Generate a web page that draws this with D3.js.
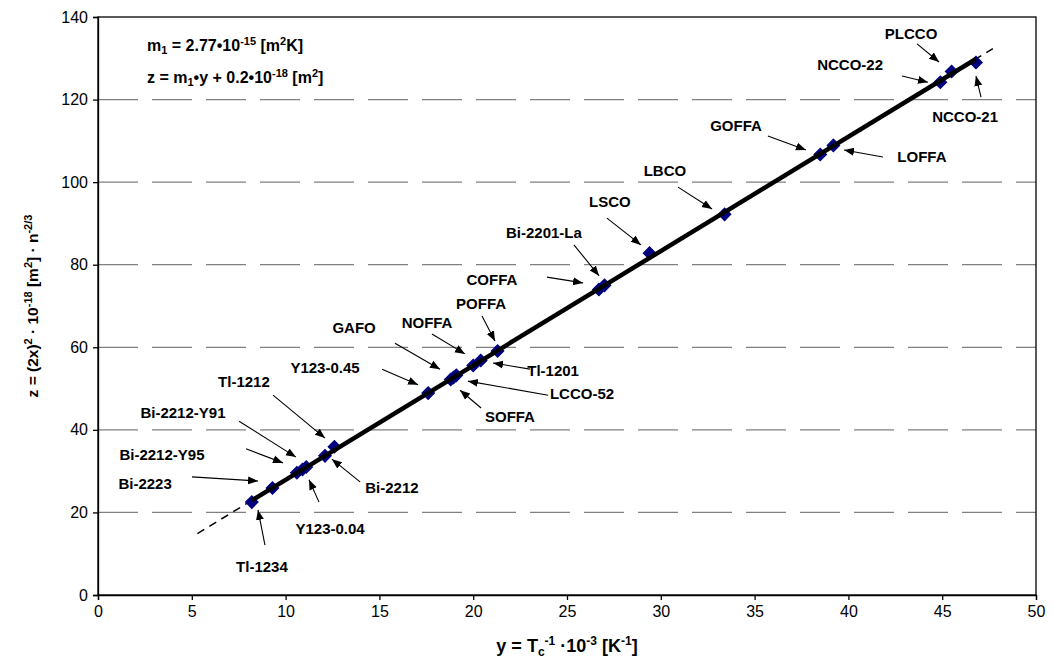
<!DOCTYPE html>
<html><head><meta charset="utf-8">
<script src="https://cdn.jsdelivr.net/npm/d3@7"></script>
<style>
body{margin:0;background:#fff;}
svg text{font-family:"Liberation Sans",Arial,sans-serif;}
</style></head>
<body><svg id="c" width="1051" height="663"></svg>
<script>
// ---- data ----
const categories = ["Tl-1234","Bi-2223","Bi-2212-Y95","Bi-2212-Y91","Y123-0.04","Bi-2212","Tl-1212","Y123-0.45","GAFO","SOFFA","LCCO-52","NOFFA","Tl-1201","POFFA","COFFA","Bi-2201-La","LSCO","LBCO","GOFFA","LOFFA","NCCO-22","PLCCO","NCCO-21"];
const yValues = [8.2,9.3,10.6,10.9,11.1,12.1,12.6,17.6,18.8,18.95,19.1,20.0,20.4,21.3,26.7,27.0,29.4,33.4,38.5,39.2,44.9,45.5,46.8];
const zValues = [22.5,25.9,29.6,30.4,31.0,33.7,35.9,48.9,52.2,52.7,53.2,55.6,56.8,59.1,74.0,75.0,82.8,92.2,106.7,108.9,124.2,126.8,129.0];
const xTicks = [0,5,10,15,20,25,30,35,40,45,50];
const yTicks = [0,20,40,60,80,100,120,140];
const fitSlope = 2.77, fitIntercept = 0.2;   // z = m1*y + 0.2
const fitExtent = [5.3, 47.7];                  // dashed extension range
// label anchors and arrows, in data units: [label, lx, lz, x1, z1, x2, z2]
const annotations = [
 ["Tl-1234",8.74,6.8,8.90,12.1,8.53,20.6],
 ["Bi-2223",2.51,27.1,5.01,28.6,8.53,27.6],
 ["Bi-2212-Y95",3.41,33.9,7.89,35.4,9.86,32.0],
 ["Bi-2212-Y91",4.53,44.3,7.52,42.1,10.55,33.4],
 ["Tl-1212",7.78,51.6,9.33,48.4,12.10,38.0],
 ["Y123-0.04",12.37,16.2,11.78,22.5,11.25,27.9],
 ["Bi-2212",15.67,25.9,13.97,27.4,12.47,32.9],
 ["Y123-0.45",12.10,55.2,15.14,54.7,17.06,50.9],
 ["GAFO",13.65,64.7,15.83,61.0,18.23,54.7],
 ["NOFFA",17.54,66.1,17.80,63.2,19.56,58.4],
 ["POFFA",20.42,70.7,20.47,67.6,21.16,61.5],
 ["Tl-1201",24.26,54.3,23.03,54.7,21.06,56.2],
 ["LCCO-52",25.80,48.7,23.99,48.4,19.72,51.8],
 ["SOFFA",21.96,43.1,20.42,45.3,19.30,49.6],
 ["COFFA",21.00,76.5,23.93,77.0,25.85,75.6],
 ["Bi-2201-La",23.77,87.7,25.37,84.8,26.71,77.3],
 ["LSCO",27.29,95.2,27.13,91.3,28.94,84.8],
 ["LBCO",30.22,102.7,30.92,98.8,32.73,93.5],
 ["GOFFA",34.01,113.6,35.71,111.2,37.74,107.8],
 ["LOFFA",43.92,106.3,41.84,106.1,39.77,107.8],
 ["NCCO-22",40.09,128.4,42.86,125.7,44.24,124.2],
 ["PLCCO",43.34,136.1,43.66,133.5,44.83,129.1],
 ["NCCO-21",46.22,115.8,47.07,120.6,46.80,125.7]
];

// ---- layout ----
const svg = d3.select("#c");
const m = {l:98, t:17, r:15, b:68};
const W = 1051 - m.l - m.r, H = 663 - m.t - m.b;
const x = d3.scaleLinear().domain([0,50]).range([m.l, m.l+W]);
const y = d3.scaleLinear().domain([0,140]).range([m.t+H, m.t]);

svg.append("rect").attr("width",1051).attr("height",663).attr("fill","#fff");

// grid
svg.append("g").selectAll("line").data(yTicks.filter(d=>d>0&&d<140)).join("line")
  .attr("x1",x(0)).attr("x2",x(50)).attr("y1",d=>y(d)).attr("y2",d=>y(d))
  .attr("stroke","#808080").attr("stroke-width",1.3).attr("stroke-dasharray","40,14");

// frame
svg.append("rect").attr("x",x(0)).attr("y",y(140)).attr("width",x(50)-x(0)).attr("height",y(0)-y(140))
  .attr("fill","none").attr("stroke","#000").attr("stroke-width",1.3);

// axes
const xa = svg.append("g").attr("transform",`translate(0,${y(0)})`)
  .call(d3.axisBottom(x).tickValues(xTicks).tickSize(5).tickPadding(6));
const ya = svg.append("g").attr("transform",`translate(${x(0)},0)`)
  .call(d3.axisLeft(y).tickValues(yTicks).tickSize(5).tickPadding(5));
[xa,ya].forEach(a=>{
  a.select(".domain").attr("stroke","#000").attr("stroke-width",1.3);
  a.selectAll(".tick line").attr("stroke","#000").attr("stroke-width",1.3);
  a.selectAll(".tick text").attr("font-size",16).attr("fill","#000").style("font-family","'Liberation Sans',Arial,sans-serif");
});

// dashed fit extension
svg.append("line")
  .attr("x1",x(fitExtent[0])).attr("y1",y(fitSlope*fitExtent[0]+fitIntercept))
  .attr("x2",x(fitExtent[1])).attr("y2",y(fitSlope*fitExtent[1]+fitIntercept))
  .attr("stroke","#000").attr("stroke-width",1.5).attr("stroke-dasharray","8,6");

// markers (diamonds)
const pts = yValues.map((v,i)=>({x:v,z:zValues[i],c:categories[i]}));
svg.append("g").selectAll("path").data(pts).join("path")
  .attr("d",d3.symbol(d3.symbolSquare,80))
  .attr("transform",d=>`translate(${x(d.x)},${y(d.z)}) rotate(45)`)
  .attr("fill","#000080").attr("stroke","#000080").attr("stroke-width",1);

// solid fit line between first and last data point
const xmin = d3.min(yValues), xmax = d3.max(yValues);
svg.append("line")
  .attr("x1",x(xmin)).attr("y1",y(fitSlope*xmin+fitIntercept))
  .attr("x2",x(xmax)).attr("y2",y(fitSlope*xmax+fitIntercept))
  .attr("stroke","#000").attr("stroke-width",4.5);

// arrows
svg.append("defs").append("marker").attr("id","ah").attr("viewBox","0 0 10 10")
  .attr("refX",10).attr("refY",5).attr("markerWidth",10).attr("markerHeight",10)
  .attr("markerUnits","userSpaceOnUse").attr("orient","auto")
  .append("path").attr("d","M0,1 L10,5 L0,9 Z").attr("fill","#000");
const ag = svg.append("g");
ag.selectAll("line").data(annotations).join("line")
  .attr("x1",d=>x(d[3])).attr("y1",d=>y(d[4])).attr("x2",d=>x(d[5])).attr("y2",d=>y(d[6]))
  .attr("stroke","#000").attr("stroke-width",1.1).attr("marker-end","url(#ah)");
ag.selectAll("text").data(annotations).join("text")
  .attr("x",d=>x(d[1])).attr("y",d=>y(d[2])).attr("dy","0.36em")
  .attr("text-anchor","middle").attr("font-size",15).attr("font-weight","bold").text(d=>d[0]);

// equation box
const eq1 = svg.append("text").attr("x",147).attr("y",51).attr("font-size",16).attr("font-weight","bold");
eq1.append("tspan").text("m");
eq1.append("tspan").text("1").attr("font-size",11).attr("dy",3);
eq1.append("tspan").text(" = 2.77•10").attr("dy",-3);
eq1.append("tspan").text("-15").attr("font-size",11).attr("dy",-6);
eq1.append("tspan").text(" [m").attr("dy",6);
eq1.append("tspan").text("2").attr("font-size",11).attr("dy",-6);
eq1.append("tspan").text("K]").attr("dy",6);

const eq2 = svg.append("text").attr("x",147).attr("y",83).attr("font-size",16).attr("font-weight","bold");
eq2.append("tspan").text("z = m");
eq2.append("tspan").text("1").attr("font-size",11).attr("dy",3);
eq2.append("tspan").text("•y + 0.2•10").attr("dy",-3);
eq2.append("tspan").text("-18").attr("font-size",11).attr("dy",-6);
eq2.append("tspan").text(" [m").attr("dy",6);
eq2.append("tspan").text("2").attr("font-size",11).attr("dy",-6);
eq2.append("tspan").text("]").attr("dy",6);

// x axis title
const xt = svg.append("text").attr("x",x(25)).attr("y",652).attr("text-anchor","middle")
  .attr("font-size",18).attr("font-weight","bold");
xt.append("tspan").text("y = T");
xt.append("tspan").text("c").attr("font-size",12).attr("dy",4);
xt.append("tspan").text("-1").attr("font-size",12).attr("dy",-11);
xt.append("tspan").text(" ·10").attr("dy",7);
xt.append("tspan").text("-3").attr("font-size",12).attr("dy",-7);
xt.append("tspan").text(" [K").attr("dy",7);
xt.append("tspan").text("-1").attr("font-size",12).attr("dy",-7);
xt.append("tspan").text("]").attr("dy",7);

// y axis title
const yt = svg.append("text").attr("transform",`translate(38,${y(70)}) rotate(-90)`)
  .attr("text-anchor","middle").attr("font-size",15.5).attr("font-weight","bold");
yt.append("tspan").text("z = (2x)");
yt.append("tspan").text("2").attr("font-size",11).attr("dy",-6);
yt.append("tspan").text(" · 10").attr("dy",6);
yt.append("tspan").text("-18").attr("font-size",11).attr("dy",-6);
yt.append("tspan").text(" [m").attr("dy",6);
yt.append("tspan").text("2").attr("font-size",11).attr("dy",-6);
yt.append("tspan").text("] · n").attr("dy",6);
yt.append("tspan").text("-2/3").attr("font-size",11).attr("dy",-6);
</script></body></html>
